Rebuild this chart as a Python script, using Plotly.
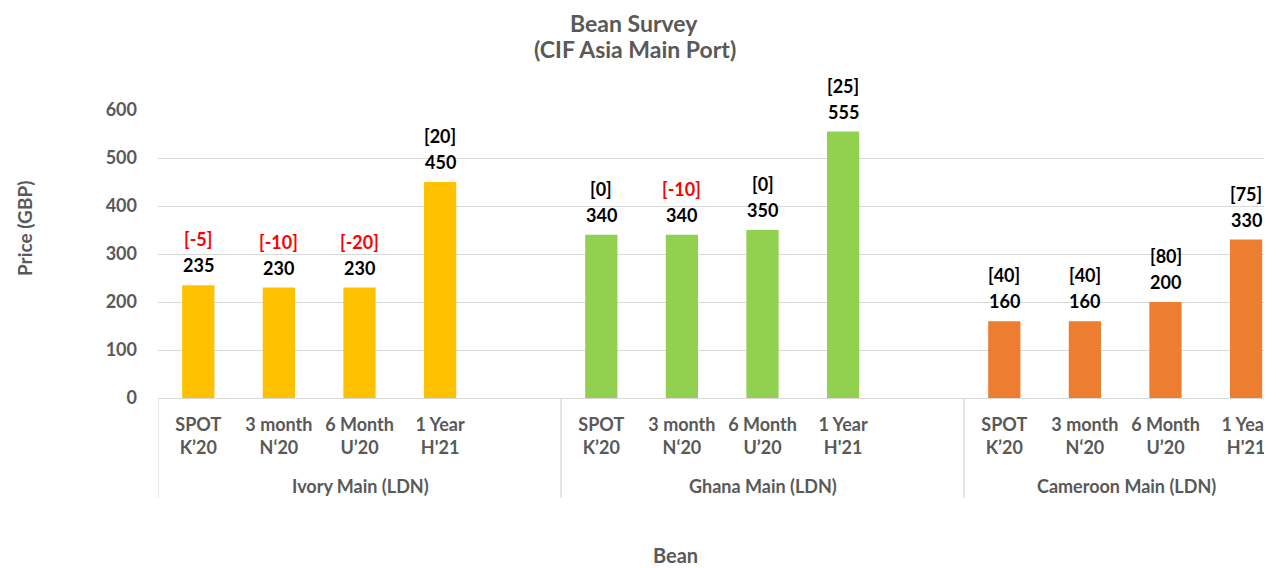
import plotly.graph_objects as go

groups = ["Ivory Main (LDN)", "Ghana Main (LDN)", "Cameroon Main (LDN)"]
periods = ["SPOT<br>K’20", "3 month<br>N‘20", "6 Month<br>U’20", "1 Year<br>H'21"]
colors = ["#FFC000", "#92D050", "#ED7D31"]
prices = {
    "Ivory Main (LDN)": [235, 230, 230, 450],
    "Ghana Main (LDN)": [340, 340, 350, 555],
    "Cameroon Main (LDN)": [160, 160, 200, 330],
}
changes = {
    "Ivory Main (LDN)": [-5, -10, -20, 20],
    "Ghana Main (LDN)": [0, -10, 0, 25],
    "Cameroon Main (LDN)": [40, 40, 80, 75],
}
slots_per_group = 5  # 4 periods + one empty slot (as in the original)

FONT = "Lato"
GREY = "#595959"

# page offset (browser body margin) and geometry in reference pixels
OFF = 8
W, H = 1272 - OFF, 568 - OFF
L, T, B = 158 - OFF, 110 - OFF, 398 - OFF
PH = B - T
PW = W - L
slot_px = 403 / slots_per_group
x_end = -0.5 + PW / slot_px

def py(p):  # reference pixel y -> paper y
    return (B - (p - OFF)) / PH

def px(p):  # reference pixel x -> paper x
    return ((p - OFF) - L) / PW

fig = go.Figure()
annotations = []
tickvals, ticktext = [], []
for gi, g in enumerate(groups):
    xs = [gi * slots_per_group + i for i in range(len(periods))]
    tickvals += xs
    ticktext += periods
    fig.add_trace(go.Bar(
        x=xs, y=prices[g], marker=dict(color=colors[gi], line=dict(width=0)),
        width=0.4, showlegend=False, hoverinfo="x+y",
    ))
    for x, v, c in zip(xs, prices[g], changes[g]):
        annotations.append(dict(
            x=x, y=v, xref="x", yref="y", text=f"<b>{v}</b>", showarrow=False,
            yanchor="middle", yshift=20, font=dict(family=FONT, size=18, color="#000000"),
        ))
        annotations.append(dict(
            x=x, y=v, xref="x", yref="y", text=f"<b>[{c}]</b>", showarrow=False,
            yanchor="middle", yshift=46,
            font=dict(family=FONT, size=18, color="#FF0000" if c < 0 else "#000000"),
        ))

# group labels
group_px = [360, 763, 1126]
for g, gx in zip(groups, group_px):
    annotations.append(dict(
        x=px(gx), y=py(486), xref="paper", yref="paper", text=f"<b>{g}</b>",
        showarrow=False, yanchor="middle", xanchor="center",
        font=dict(family=FONT, size=18, color=GREY),
    ))

# titles
annotations += [
    dict(x=px(634), y=py(23), xref="paper", yref="paper", text="<b>Bean Survey</b>",
         showarrow=False, yanchor="middle", borderpad=0,
         font=dict(family=FONT, size=23, color=GREY)),
    dict(x=px(635), y=py(49), xref="paper", yref="paper", text="<b>(CIF Asia Main Port)</b>",
         showarrow=False, yanchor="middle", borderpad=0,
         font=dict(family=FONT, size=23, color=GREY)),
    dict(x=px(675), y=py(555), xref="paper", yref="paper", text="<b>Bean</b>",
         showarrow=False, yanchor="middle", font=dict(family=FONT, size=20, color=GREY)),
    dict(x=px(24), y=py(229), xref="paper", yref="paper", text="<b>Price (GBP)</b>",
         showarrow=False, textangle=-90, xanchor="center", yanchor="middle",
         font=dict(family=FONT, size=19, color=GREY)),
]

shapes = []
for gi in range(len(groups)):
    xs = gi * slots_per_group - 0.5
    shapes.append(dict(type="line", xref="x", yref="paper", x0=xs, x1=xs,
                       y0=0, y1=py(498), line=dict(color="#D9D9D9", width=1.3)))

fig.update_layout(
    width=W, height=H,
    margin=dict(l=L, r=0, t=T, b=H - B),
    paper_bgcolor="white", plot_bgcolor="white",
    annotations=annotations,
    shapes=shapes,
    xaxis=dict(
        range=[-0.5, x_end], tickvals=tickvals,
        ticktext=[f"<b>{t}</b>" for t in ticktext],
        tickfont=dict(family=FONT, size=18, color=GREY),
        showgrid=False, zeroline=False, showline=True, linecolor="#D9D9D9", linewidth=1.3,
        ticks="", ticklabelstandoff=10,
    ),
    yaxis=dict(
        range=[0, 600], dtick=100, showgrid=True, gridcolor="#D9D9D9", gridwidth=1.3,
        zeroline=False, showline=False, ticks="",
        tickfont=dict(family=FONT, size=18, color=GREY, weight="bold"),
        ticklabelstandoff=20,
    ),
    font=dict(family=FONT),
)

fig.write_html("out.html")
